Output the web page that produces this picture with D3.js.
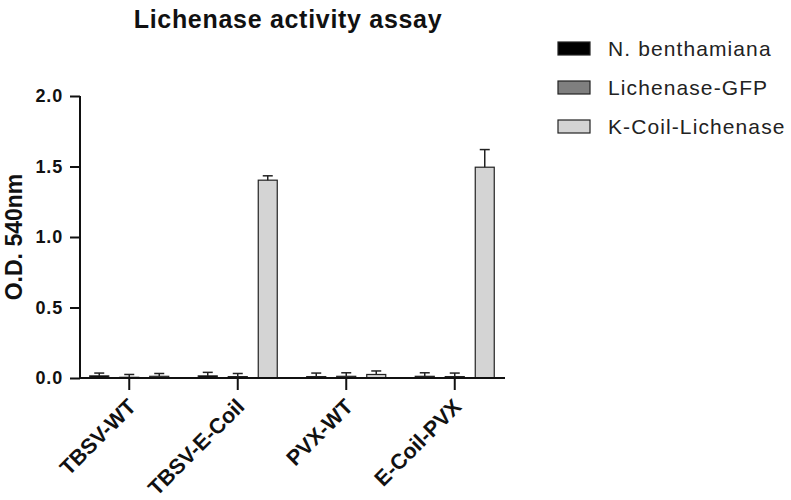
<!DOCTYPE html>
<html>
<head>
<meta charset="utf-8">
<script src="https://cdn.jsdelivr.net/npm/d3@7"></script>
<style>
  body { margin: 0; background: #fff; }
  svg text { font-family: "Liberation Sans", Arial, sans-serif; fill: #111; }
  .axis path, .axis line { stroke: #111; stroke-width: 2; }
  .axis text { font-weight: bold; }
</style>
</head>
<body>
<div id="chart"></div>
<script>
// --- data ---
const categories = ["TBSV-WT", "TBSV-E-Coil", "PVX-WT", "E-Coil-PVX"];
const seriesNames = ["N. benthamiana", "Lichenase-GFP", "K-Coil-Lichenase"];
const seriesColors = ["#000000", "#7f7f7f", "#d4d4d4"];
const nbValues = [0.015, 0.015, 0.010, 0.012];
const nbErrors = [0.020, 0.025, 0.025, 0.025];
const gfpValues = [0.005, 0.010, 0.012, 0.010];
const gfpErrors = [0.020, 0.022, 0.025, 0.025];
const kcoilValues = [0.012, 1.403, 0.025, 1.495];
const kcoilErrors = [0.020, 0.031, 0.025, 0.125];
const yTicks = [0, 0.5, 1.0, 1.5, 2.0];

const seriesValues = [nbValues, gfpValues, kcoilValues];
const seriesErrors = [nbErrors, gfpErrors, kcoilErrors];

const rows = [];
categories.forEach((c, i) => {
    seriesNames.forEach((s, j) => {
        rows.push({cat: c, series: s, color: seriesColors[j], value: seriesValues[j][i], err: seriesErrors[j][i]});
    });
});

// --- setup ---
const W = 791, H = 500;
const svg = d3.select("#chart").append("svg").attr("width", W).attr("height", H);

const x = d3.scaleBand().domain(categories).range([75, 509]);
const xs = d3.scalePoint().domain(seriesNames).range([-30, 30]);
const y = d3.scaleLinear().domain([0, 2]).range([378, 96]);
const barW = 19;
const axisX = 80;
const cx = d => x(d.cat) + x.bandwidth() / 2 + xs(d.series);

// title
svg.append("text").attr("x", 288).attr("y", 28).attr("text-anchor", "middle")
    .style("font-size", "25px").style("font-weight", "bold").style("letter-spacing", "0.7px")
    .text("Lichenase activity assay");

// bars
const g = svg.append("g");
g.selectAll("rect.bar").data(rows).enter().append("rect")
    .attr("class", "bar")
    .attr("x", d => cx(d) - barW / 2)
    .attr("y", d => y(d.value))
    .attr("width", barW)
    .attr("height", d => y(0) - y(d.value))
    .attr("fill", d => d.color)
    .attr("stroke", "#222").attr("stroke-width", 1.2);

// error bars (upper only)
const eb = g.selectAll("g.err").data(rows).enter().append("g").attr("class", "err");
eb.append("line")
    .attr("x1", cx).attr("x2", cx)
    .attr("y1", d => y(d.value))
    .attr("y2", d => y(d.value + d.err))
    .attr("stroke", "#222").attr("stroke-width", 1.5);
eb.append("line")
    .attr("x1", d => cx(d) - 5)
    .attr("x2", d => cx(d) + 5)
    .attr("y1", d => y(d.value + d.err))
    .attr("y2", d => y(d.value + d.err))
    .attr("stroke", "#222").attr("stroke-width", 1.5);

// y axis
const yAxis = svg.append("g").attr("class", "axis").attr("transform", `translate(${axisX},0)`)
    .call(d3.axisLeft(y).tickValues(yTicks).tickFormat(d3.format(".1f")).tickSize(10).tickSizeOuter(0).tickPadding(7));
yAxis.select(".domain").attr("d", `M0,${y(0)}V${y(2)}`);
yAxis.selectAll(".tick text").style("font-size", "18px").style("letter-spacing", "0.8px");

// x axis
const xAxis = svg.append("g").attr("class", "axis").attr("transform", `translate(0,${y(0)})`)
    .call(d3.axisBottom(x).tickSize(12).tickSizeOuter(0));
xAxis.select(".domain").attr("d", `M${axisX},0H${x.range()[1] - 4}`);
xAxis.selectAll(".tick text")
    .attr("text-anchor", "end")
    .attr("transform", "translate(8,30) rotate(-45)")
    .attr("dy", 0).attr("y", 0).attr("x", 0)
    .style("font-size", "21.5px");

// y title
svg.append("text").attr("transform", `translate(22,${y(1)}) rotate(-90)`)
    .attr("text-anchor", "middle").style("font-size", "23px").style("font-weight", "bold")
    .text("O.D. 540nm");

// legend
const lg = svg.append("g").attr("transform", "translate(558,42)");
const li = lg.selectAll("g").data(seriesNames).enter().append("g")
    .attr("transform", (d, i) => `translate(0,${i * 39})`);
li.append("rect").attr("width", 32).attr("height", 13)
    .attr("fill", (d, i) => seriesColors[i]).attr("stroke", "#222").attr("stroke-width", 1.2);
li.append("text").attr("x", 50).attr("y", 14)
    .style("font-size", "21px").style("letter-spacing", "1.1px").style("fill", "#222").text(d => d);
</script>
</body>
</html>
